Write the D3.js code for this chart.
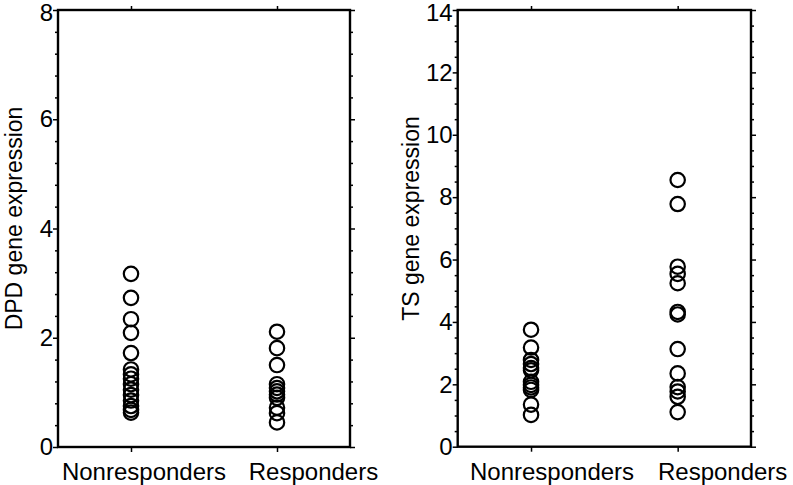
<!DOCTYPE html>
<html>
<head>
<meta charset="utf-8">
<script src="https://cdn.jsdelivr.net/npm/d3@7"></script>
<style>
  html, body { margin: 0; padding: 0; background: #fff; }
  svg { display: block; font-family: "Liberation Sans", Arial, Helvetica, sans-serif; }
</style>
</head>
<body>
<svg id="chart" width="793" height="485"></svg>
<script>
// ---- data ----
const categories = ["Nonresponders", "Responders"];

const dpdNonresponders = [3.17, 2.73, 2.34, 2.09, 1.72, 1.42, 1.33, 1.25, 1.15, 1.05, 0.95, 0.85, 0.75, 0.68, 0.63];
const dpdResponders    = [2.11, 1.81, 1.50, 1.15, 1.08, 1.02, 0.96, 0.90, 0.72, 0.62, 0.45];

const tsNonresponders  = [3.75, 3.18, 2.78, 2.65, 2.52, 2.45, 2.08, 1.98, 1.90, 1.82, 1.35, 1.02];
const tsResponders     = [8.55, 7.78, 5.77, 5.54, 5.24, 4.32, 4.24, 3.13, 2.35, 1.91, 1.77, 1.60, 1.11];

const dpdTicks = [0, 2, 4, 6, 8];
const tsTicks  = [0, 2, 4, 6, 8, 10, 12, 14];

// ---- layout ----
const svg = d3.select("#chart");
const panels = [
  { left: 58, right: 350, top: 10, bottom: 447, yMax: 8, ticks: dpdTicks, minorStep: 0.4,
    label: "DPD gene expression", labelX: 14,
    series: [dpdNonresponders, dpdResponders], catDx: [13, 36.5] },
  { left: 457.7, right: 751, top: 10, bottom: 446.7, yMax: 14, ticks: tsTicks, minorStep: 0.5,
    label: "TS gene expression", labelX: 410.7,
    series: [tsNonresponders, tsResponders], catDx: [21, 45] }
];

panels.forEach(p => {
  const g = svg.append("g");
  const x = d3.scalePoint().domain(categories).range([p.left, p.right]).padding(0.5);
  const y = d3.scaleLinear().domain([0, p.yMax]).range([p.bottom, p.top]);
  const minor = d3.range(0, p.yMax + 1e-9, p.minorStep).filter(v => !p.ticks.some(t => Math.abs(t - v) < 1e-6));

  // minor ticks left & right
  g.append("g").attr("transform", `translate(${p.left},0)`)
    .call(d3.axisLeft(y).tickValues(minor).tickSize(3).tickFormat(""))
    .call(s => s.select(".domain").remove())
    .selectAll("line").attr("stroke", "#000").attr("stroke-width", 1.5);
  g.append("g").attr("transform", `translate(${p.right},0)`)
    .call(d3.axisRight(y).tickValues(minor).tickSize(3).tickFormat(""))
    .call(s => s.select(".domain").remove())
    .selectAll("line").attr("stroke", "#000").attr("stroke-width", 1.5);

  // major ticks left with labels
  const yl = g.append("g").attr("transform", `translate(${p.left},0)`)
    .call(d3.axisLeft(y).tickValues(p.ticks).tickSize(5).tickPadding(0).tickFormat(d3.format("d")));
  yl.select(".domain").remove();
  yl.selectAll("line").attr("stroke", "#000").attr("stroke-width", 1.5);
  yl.selectAll("text").attr("font-size", 24).attr("fill", "#000")
    .attr("font-family", "Liberation Sans, Arial, sans-serif")
    .attr("dy", d => d === p.yMax ? "0.45em" : "0.32em");

  // major ticks right
  g.append("g").attr("transform", `translate(${p.right},0)`)
    .call(d3.axisRight(y).tickValues(p.ticks).tickSize(5).tickFormat(""))
    .call(s => s.select(".domain").remove())
    .selectAll("line").attr("stroke", "#000").attr("stroke-width", 1.5);

  // category ticks top and bottom
  g.append("g").attr("transform", `translate(0,${p.bottom})`)
    .call(d3.axisBottom(x).tickSize(5).tickFormat(""))
    .call(s => s.select(".domain").remove())
    .selectAll("line").attr("stroke", "#000").attr("stroke-width", 1.5);
  g.append("g").attr("transform", `translate(0,${p.top})`)
    .call(d3.axisTop(x).tickSize(4).tickFormat(""))
    .call(s => s.select(".domain").remove())
    .selectAll("line").attr("stroke", "#000").attr("stroke-width", 1.5);

  // frame
  g.append("rect").attr("x", p.left).attr("y", p.top)
    .attr("width", p.right - p.left).attr("height", p.bottom - p.top)
    .attr("fill", "none").attr("stroke", "#000").attr("stroke-width", 2.4);

  // category labels
  g.selectAll("text.cat").data(categories).join("text")
    .attr("class", "cat")
    .attr("x", (d, i) => x(d) + p.catDx[i])
    .attr("y", 480)
    .attr("text-anchor", "middle")
    .attr("font-size", 24)
    .attr("fill", "#000")
    .text(d => d);

  // y label
  g.append("text")
    .attr("transform", `translate(${p.labelX + 8},218.5) rotate(-90)`)
    .attr("text-anchor", "middle")
    .attr("font-size", 23)
    .attr("fill", "#000")
    .text(p.label);

  // points
  p.series.forEach((vals, i) => {
    g.selectAll(null).data(vals).join("circle")
      .attr("cx", x(categories[i]))
      .attr("cy", d => y(d))
      .attr("r", 7.2)
      .attr("fill", "none")
      .attr("stroke", "#000")
      .attr("stroke-width", 2.2);
  });
});
</script>
</body>
</html>
